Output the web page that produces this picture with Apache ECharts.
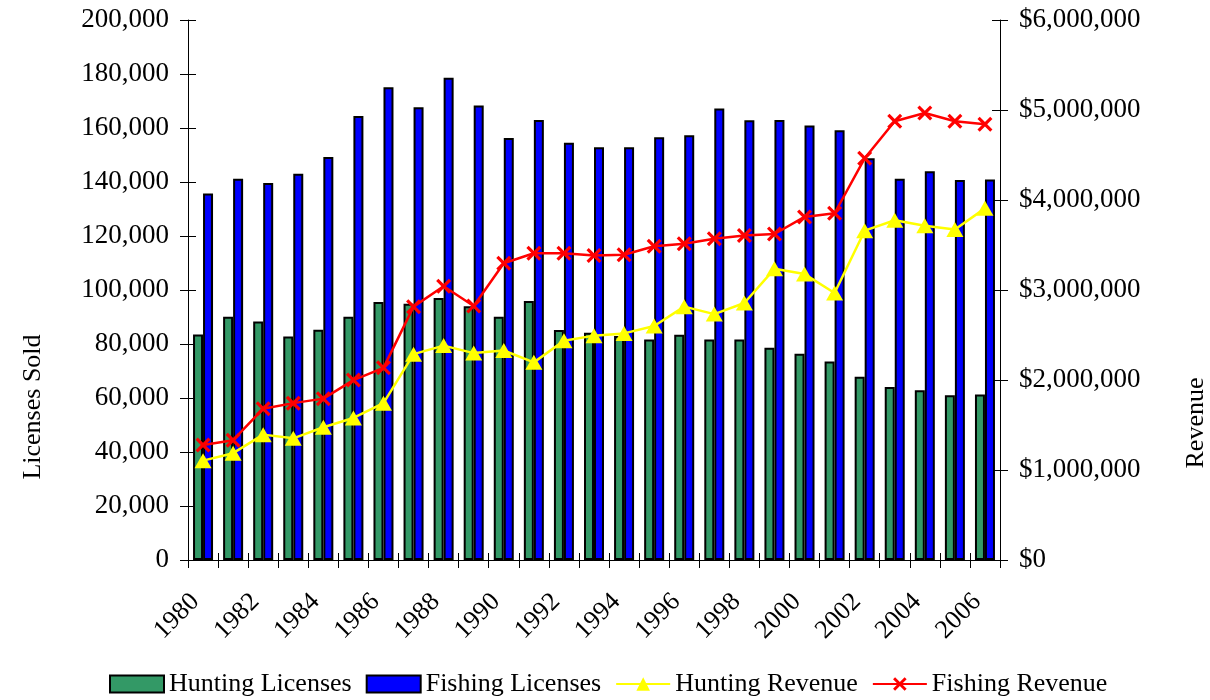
<!DOCTYPE html>
<html>
<head>
<meta charset="utf-8">
<script src="https://cdn.jsdelivr.net/npm/echarts@6/dist/echarts.min.js"></script>
<style>html,body{margin:0;padding:0;background:#fff;}#c{width:1210px;height:700px;}</style>
</head>
<body>
<div id="c"></div>
<script>
const years = ['1980','1981','1982','1983','1984','1985','1986','1987','1988','1989','1990','1991','1992','1993','1994','1995','1996','1997','1998','1999','2000','2001','2002','2003','2004','2005','2006'];
const huntingLicenses = [83500,90100,88300,82800,85300,90100,95600,94900,97000,94000,90100,95900,85200,84200,83000,81700,83400,81700,81700,78600,76400,73500,67900,64100,62900,61000,61300];
const fishingLicenses = [135700,141200,139600,143100,149300,164400,175100,167700,178600,168300,156300,163000,154500,152900,152900,156600,157300,167200,162900,163000,160900,159200,148800,141200,144000,140700,140900];
const huntingRevenue = [1104000,1187000,1393000,1352000,1475000,1578000,1743000,2287000,2382000,2299000,2328000,2196000,2435000,2493000,2518000,2600000,2815000,2732000,2856000,3235000,3177000,2967000,3659000,3775000,3713000,3672000,3907000];
const fishingRevenue = [1278000,1331000,1681000,1743000,1793000,1999000,2135000,2815000,3041000,2823000,3297000,3408000,3408000,3383000,3391000,3486000,3515000,3569000,3606000,3622000,3812000,3853000,4463000,4875000,4966000,4875000,4842000];
const leftTicks = {min:0, max:200000, interval:20000};
const rightTicks = {min:0, max:6000000, interval:1000000};

const FONT = 'Liberation Serif';
const fmt = v => String(v).replace(/\B(?=(\d{3})+(?!\d))/g, ',');
const xShape = 'path://M0,1.5L1.5,0L5,3.5L8.5,0L10,1.5L6.5,5L10,8.5L8.5,10L5,6.5L1.5,10L0,8.5L3.5,5Z';

const chart = echarts.init(document.getElementById('c'), null, {renderer:'canvas'});
const axisLine = {show:true, lineStyle:{color:'#000', width:1}};
chart.setOption({
  animation:false,
  textStyle:{fontFamily:FONT},
  grid:{left:188, right:210, top:20, bottom:140, containLabel:false},
  legend:{
    bottom:-2, left:104, itemWidth:54, itemHeight:17, itemGap:14,
    textStyle:{fontFamily:FONT, fontSize:26, color:'#000'},
    data:[{name:'Hunting Licenses', icon:'rect'},{name:'Fishing Licenses', icon:'rect'},'Hunting Revenue','Fishing Revenue']
  },
  xAxis:[
    {type:'category', data:years, position:'bottom', boundaryGap:true,
     axisLine:axisLine,
     axisTick:{show:true, interval:0, length:8, lineStyle:{color:'#000'}},
     axisLabel:{interval:1, rotate:45, margin:30, padding:[0,11,0,0], fontFamily:FONT, fontSize:26, color:'#000'},
     splitLine:{show:false}},
    {type:'category', data:years, position:'bottom', boundaryGap:true,
     axisLine:{show:false},
     axisTick:{show:true, inside:true, interval:0, length:7, lineStyle:{color:'#000'}},
     axisLabel:{show:false}, splitLine:{show:false}}
  ],
  yAxis:[
    {type:'value', position:'left', min:leftTicks.min, max:leftTicks.max, interval:leftTicks.interval,
     axisLine:axisLine, axisTick:{show:true, length:8, lineStyle:{color:'#000'}},
     axisLabel:{margin:19, fontFamily:FONT, fontSize:27, color:'#000', formatter:fmt},
     splitLine:{show:false}},
    {type:'value', position:'right', min:rightTicks.min, max:rightTicks.max, interval:rightTicks.interval,
     axisLine:axisLine, axisTick:{show:true, length:8, lineStyle:{color:'#000'}},
     axisLabel:{margin:19, fontFamily:FONT, fontSize:27, color:'#000', formatter:v => '$' + fmt(v)},
     splitLine:{show:false}},
    {type:'value', position:'left', min:leftTicks.min, max:leftTicks.max, interval:leftTicks.interval,
     axisLine:{show:false}, axisTick:{show:true, inside:true, length:8, lineStyle:{color:'#000'}},
     axisLabel:{show:false}, splitLine:{show:false}},
    {type:'value', position:'right', min:rightTicks.min, max:rightTicks.max, interval:rightTicks.interval,
     axisLine:{show:false}, axisTick:{show:true, inside:true, length:8, lineStyle:{color:'#000'}},
     axisLabel:{show:false}, splitLine:{show:false}}
  ],
  graphic:[
    {type:'text', x:33, y:407, rotation:Math.PI/2,
     style:{text:'Licenses Sold', font:'26px "Liberation Serif"', fill:'#000', align:'center', verticalAlign:'middle'}},
    {type:'text', x:1196, y:423, rotation:Math.PI/2,
     style:{text:'Revenue', font:'26px "Liberation Serif"', fill:'#000', align:'center', verticalAlign:'middle'}}
  ],
  series:[
    {name:'Hunting Licenses', type:'bar', xAxisIndex:0, yAxisIndex:0, data:huntingLicenses,
     barWidth:10, barGap:'0%',
     itemStyle:{color:'#339966', borderColor:'#000', borderWidth:2}},
    {name:'Fishing Licenses', type:'bar', xAxisIndex:0, yAxisIndex:0, data:fishingLicenses,
     barWidth:10, barGap:'0%',
     itemStyle:{color:'#0000FF', borderColor:'#000', borderWidth:2}},
    {name:'Hunting Revenue', type:'line', xAxisIndex:0, yAxisIndex:1, data:huntingRevenue,
     symbol:'triangle', symbolSize:[17,15], showAllSymbol:true,
     lineStyle:{color:'#FFFF00', width:2.5},
     itemStyle:{color:'#FFFF00'}},
    {name:'Fishing Revenue', type:'line', xAxisIndex:0, yAxisIndex:1, data:fishingRevenue,
     symbol:xShape, symbolSize:15, showAllSymbol:true,
     lineStyle:{color:'#FF0000', width:2.5},
     itemStyle:{color:'#FF0000'}}
  ]
});
</script>
</body>
</html>
